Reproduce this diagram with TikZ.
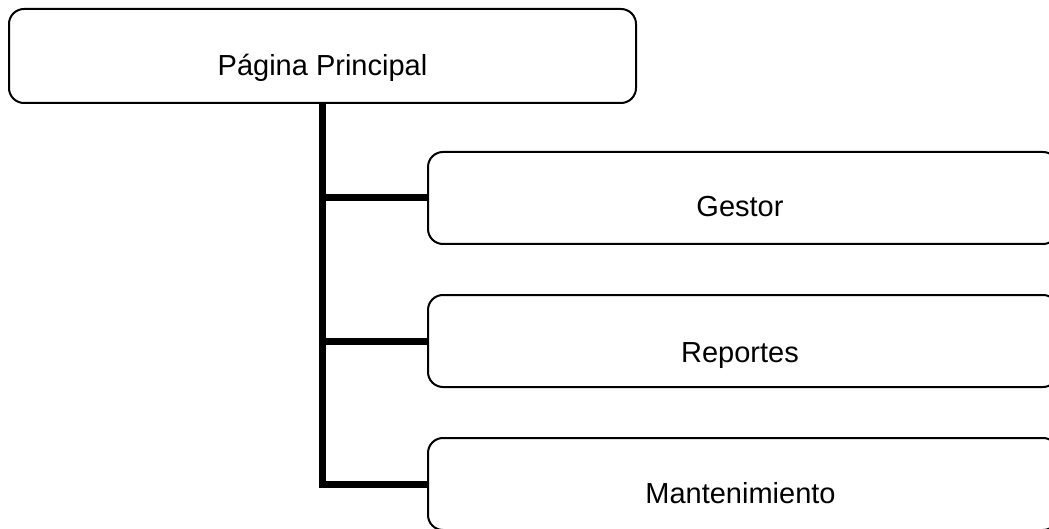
\documentclass[tikz,border=0pt]{standalone}
\usepackage{fontspec}
\setmainfont{Liberation Sans}
\begin{document}
\begin{tikzpicture}[x=1pt,y=-1pt,
  box/.style={draw=black, line width=2pt, rounded corners=15pt, fill=white,
    inner sep=0pt, minimum width=#1, minimum height=92pt},
  box/.default=630pt,
  lbl/.style={anchor=base, inner sep=0pt, font=\fontsize{29}{35}\selectfont},
  conn/.style={draw=black, line width=7pt, line join=miter}]
\useasboundingbox (0,0) rectangle (1049,529);
\clip (0,0) rectangle (1049,529);
\node[box=627pt, minimum height=94pt] (top) at (322.5,56) {};
\node[box] (g) at (743,198) {};
\node[box] (r) at (743,341) {};
\node[box] (m) at (743,484) {};
\node[lbl] (ttop) at (322.5,76) {Página Principal};
\node[lbl] (tg) at (740,217) {Gestor};
\node[lbl] (tr) at (740,362) {Reportes};
\node[lbl] (tm) at (740.5,503) {Mantenimiento};
\draw[conn] (top.south -| 322,0) -- (322,0 |- m.west) -- (m.west);
\draw[conn] (322,0 |- g.west) -- (g.west);
\draw[conn] (322,0 |- r.west) -- (r.west);
\end{tikzpicture}
\end{document}
